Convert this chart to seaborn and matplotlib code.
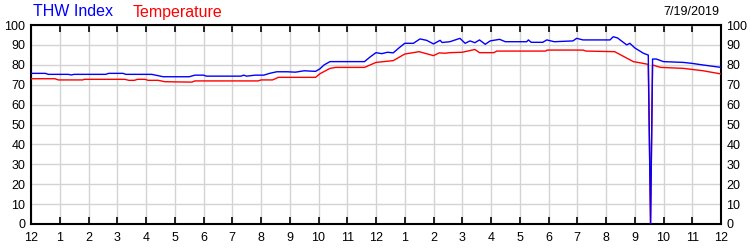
import matplotlib
matplotlib.use("Agg")
import matplotlib.pyplot as plt
import seaborn as sns
import pandas as pd

# ---- data (hours after midnight) ----
thw_hours = [0.0, 0.5, 0.6, 1.3, 1.4, 1.5, 2.6, 2.7, 3.2, 3.3, 4.2, 4.4, 4.6, 5.5,
             5.7, 6.0, 6.1, 7.3, 7.4, 7.5, 7.8, 8.1, 8.3, 8.55, 8.9, 9.2, 9.5, 9.9,
             10.05, 10.2, 10.4, 11.6, 11.8, 12.0, 12.2, 12.4, 12.6, 12.8, 13.0, 13.3,
             13.53, 13.76, 14.0, 14.23, 14.3, 14.57, 14.92, 15.1, 15.27, 15.44, 15.6,
             15.8, 15.97, 16.3, 16.5, 17.24, 17.3, 17.4, 17.8, 17.94, 18.2, 18.85,
             18.98, 19.2, 19.8, 20.14, 20.25, 20.4, 20.72, 20.83, 21.0, 21.3, 21.47,
             21.55, 21.62, 21.75, 22.0, 22.69, 23.0, 23.38, 24.0]
thw_values = [75.7, 75.7, 75.2, 75.2, 74.9, 75.2, 75.2, 75.7, 75.7, 75.2, 75.2, 74.6, 74.0, 74.0,
              74.8, 74.8, 74.3, 74.3, 74.8, 74.3, 74.8, 74.8, 75.7, 76.5, 76.5, 76.3, 77.0, 76.7,
              78.0, 80.0, 81.6, 81.6, 84.0, 86.1, 85.6, 86.3, 86.0, 88.5, 90.8, 90.8,
              93.0, 92.3, 90.5, 92.3, 91.2, 91.6, 93.3, 90.8, 92.0, 91.1, 92.5,
              90.3, 92.0, 92.8, 91.6, 91.6, 92.5, 91.3, 91.3, 92.5, 91.6, 92.0,
              93.3, 92.5, 92.5, 92.5, 94.1, 93.5, 90.0, 90.8, 88.5, 85.8, 84.9,
              0.0, 82.9, 82.9, 81.6, 81.2, 80.7, 79.9, 78.7]

temp_hours = [0.0, 0.83, 0.95, 1.8, 1.85, 3.27, 3.4, 3.6, 3.7, 3.97, 4.07, 4.42, 4.66, 5.6,
              5.7, 7.9, 8.0, 8.4, 8.5, 8.6, 9.45, 9.9, 10.05, 10.4, 10.6, 11.6, 12.0, 12.6,
              13.0, 13.5, 14.0, 14.2, 14.4, 14.57, 15.0, 15.44, 15.6, 16.1, 16.2, 17.9,
              17.95, 19.2, 19.3, 20.3, 20.95, 21.3, 21.47, 21.55, 21.62, 21.9, 22.69,
              23.38, 24.0]
temp_values = [73.0, 73.0, 72.4, 72.4, 72.7, 72.7, 72.2, 72.2, 72.7, 72.7, 72.2, 72.2, 71.5, 71.3,
               71.9, 71.9, 72.4, 72.4, 73.0, 73.7, 73.7, 73.7, 75.5, 78.2, 78.7, 78.7, 81.2, 82.1,
               85.4, 86.6, 84.6, 86.0, 85.8, 86.1, 86.3, 87.7, 86.1, 86.1, 86.9, 86.9,
               87.4, 87.4, 86.9, 86.6, 81.6, 80.7, 80.2, 0.0, 79.9, 78.7, 78.2,
               77.0, 75.4]

x_tick_labels = ["12", "1", "2", "3", "4", "5", "6", "7", "8", "9", "10", "11",
                 "12", "1", "2", "3", "4", "5", "6", "7", "8", "9", "10", "11", "12"]
y_ticks = [0, 10, 20, 30, 40, 50, 60, 70, 80, 90, 100]
date_label = "7/19/2019"

sns.set_style("white")
plt.rcParams["font.family"] = ["Liberation Sans", "DejaVu Sans"]

fig = plt.figure(figsize=(7.5, 2.5), dpi=100)
ax = fig.add_axes([31 / 750, 26 / 250, 690 / 750, 199 / 250])

thw_df = pd.DataFrame({"hour": thw_hours, "value": thw_values})
temp_df = pd.DataFrame({"hour": temp_hours, "value": temp_values})

sns.lineplot(data=temp_df, x="hour", y="value", ax=ax, color="#ff0000",
             linewidth=1.0, estimator=None, sort=False, zorder=3)
sns.lineplot(data=thw_df, x="hour", y="value", ax=ax, color="#0000ff",
             linewidth=1.0, estimator=None, sort=False, zorder=4)

ax.set_xlim(0, 24)
ax.set_ylim(0, 100)
ax.set_xticks(range(25))
ax.set_xticklabels(x_tick_labels)
ax.set_yticks(y_ticks)
ax.set_yticklabels([str(v) for v in y_ticks])
ax.set_xlabel("")
ax.set_ylabel("")

ax.grid(True, color="#d3d3d3", linewidth=1.0, zorder=0)
ax.set_axisbelow(True)
for s in ax.spines.values():
    s.set_visible(True)
    s.set_color("black")
    s.set_linewidth(1.5)

ax.tick_params(axis="x", which="both", direction="in", length=5, width=1.2,
               color="black", top=True, bottom=True, labelsize=9, pad=6,
               labelcolor="black")
ax.tick_params(axis="y", which="both", length=0, labelsize=9, pad=4,
               left=True, right=True, labelleft=True, labelright=True,
               labelcolor="black")

fig.text(33 / 750, 1 - 12 / 250, "THW Index", color="#0000ff", fontsize=11.5,
         va="center", ha="left")
fig.text(133 / 750, 1 - 12 / 250, "Temperature", color="#ff0000", fontsize=11.5,
         va="center", ha="left")
fig.text(719 / 750, 1 - 12 / 250, date_label, color="black", fontsize=9,
         va="center", ha="right")

fig.savefig("out.png", dpi=100)
